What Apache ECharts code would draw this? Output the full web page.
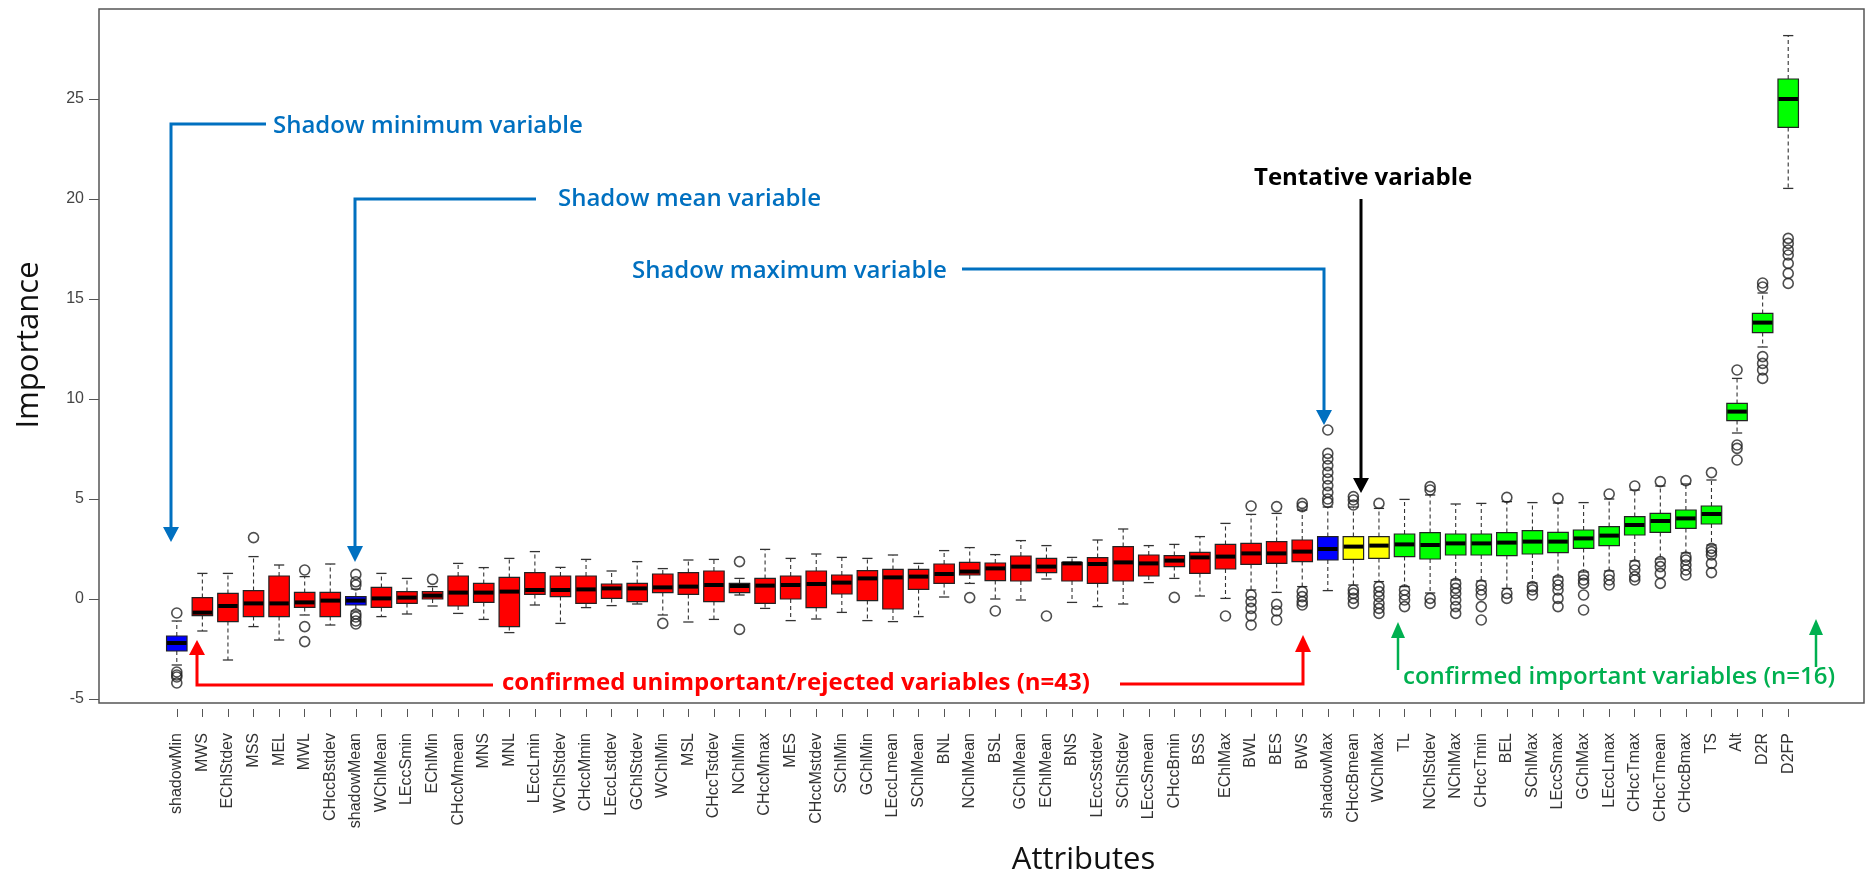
<!DOCTYPE html>
<html><head><meta charset="utf-8">
<script src="https://cdn.jsdelivr.net/npm/echarts@6/dist/echarts.min.js"></script>
<style>html,body{margin:0;padding:0;background:#fff}#c{width:1866px;height:881px}</style>
</head><body><div id="c"></div>
<script>
// ---------- data ----------
const categories = ['shadowMin','MWS','EChlStdev','MSS','MEL','MWL','CHccBstdev','shadowMean','WChlMean','LEccSmin',
 'EChlMin','CHccMmean','MNS','MNL','LEccLmin','WChlStdev','CHccMmin','LEccLstdev','GChlStdev','WChlMin',
 'MSL','CHccTstdev','NChlMin','CHccMmax','MES','CHccMstdev','SChlMin','GChlMin','LEccLmean','SChlMean',
 'BNL','NChlMean','BSL','GChlMean','EChlMean','BNS','LEccSstdev','SChlStdev','LEccSmean','CHccBmin',
 'BSS','EChlMax','BWL','BES','BWS','shadowMax','CHccBmean','WChlMax','TL','NChlStdev',
 'NChlMax','CHccTmin','BEL','SChlMax','LEccSmax','GChlMax','LEccLmax','CHccTmax','CHccTmean','CHccBmax',
 'TS','Alt','D2R','D2FP'];
const whiskerLow = [-3.3,-1.6,-3.05,-1.38,-2.05,-0.8,-1.3,-0.6,-0.88,-0.75,
 -0.35,-0.72,-1.02,-1.68,-0.3,-1.22,-0.43,-0.33,-0.25,-0.8,
 -1.15,-1.02,0.2,-0.47,-1.08,-1.0,-0.67,-1.08,-1.13,-0.88,
 0.1,0.78,0.0,-0.05,1.0,-0.17,-0.38,-0.25,0.82,1.03,
 0.15,0.03,0.45,0.33,0.62,0.42,0.7,0.87,0.62,0.3,
 0.95,0.9,0.53,0.8,1.1,1.35,1.4,1.9,2.0,2.3,
 2.7,8.3,12.6,20.53];
const q1 = [-2.6,-0.83,-1.13,-0.88,-0.88,-0.42,-0.88,-0.3,-0.42,-0.22,
 0.0,-0.35,-0.17,-1.38,0.23,0.12,-0.22,0.03,-0.13,0.32,
 0.23,-0.13,0.32,-0.22,0.0,-0.43,0.25,-0.08,-0.5,0.48,
 0.78,1.2,0.92,0.9,1.32,0.9,0.78,0.9,1.15,1.62,
 1.28,1.5,1.73,1.78,1.87,1.95,1.98,2.03,2.12,2.0,
 2.2,2.2,2.17,2.25,2.32,2.53,2.67,3.2,3.33,3.53,
 3.75,8.92,13.32,23.58];
const median = [-2.2,-0.68,-0.35,-0.22,-0.22,-0.17,-0.08,-0.08,0.03,0.07,
 0.17,0.32,0.32,0.37,0.45,0.45,0.48,0.53,0.53,0.58,
 0.62,0.7,0.65,0.67,0.7,0.75,0.82,1.03,1.08,1.12,
 1.25,1.37,1.53,1.62,1.62,1.78,1.75,1.83,1.78,1.92,
 2.08,2.12,2.28,2.28,2.37,2.5,2.62,2.67,2.73,2.7,
 2.78,2.78,2.82,2.87,2.87,3.03,3.17,3.7,3.9,4.03,
 4.25,9.37,13.82,25.0];
const q3 = [-1.85,0.07,0.28,0.42,1.15,0.33,0.33,0.12,0.58,0.37,
 0.37,1.15,0.78,1.08,1.32,1.15,1.15,0.75,0.78,1.25,
 1.32,1.4,0.78,1.03,1.15,1.4,1.2,1.42,1.48,1.48,
 1.75,1.83,1.8,2.15,2.03,1.83,2.07,2.62,2.2,2.17,
 2.33,2.73,2.78,2.87,2.95,3.12,3.12,3.12,3.25,3.32,
 3.25,3.25,3.32,3.42,3.33,3.45,3.62,4.12,4.28,4.45,
 4.65,9.78,14.28,26.0];
const whiskerHigh = [-1.1,1.28,1.28,2.12,1.7,1.12,1.75,0.5,1.28,1.03,
 0.62,1.78,1.57,2.03,2.37,1.58,1.98,1.4,1.87,1.52,
 1.95,1.98,1.03,2.48,2.03,2.25,2.08,2.03,2.2,1.78,
 2.42,2.57,2.22,2.92,2.67,2.08,2.95,3.5,2.67,2.73,
 3.12,3.78,4.23,4.28,4.45,4.6,4.6,4.53,4.98,5.2,
 4.75,4.78,4.87,4.82,4.8,4.82,5.0,5.45,5.65,5.75,
 5.95,11.03,15.3,28.17];
const outliers = [[-0.7,-3.65,-3.8,-3.9,-4.2],[],[],[3.07],[],[1.45,-1.38,-2.13],[],[0.7,0.86,1.23,-0.75,-0.9,-1.1,-1.25],[],[],
 [0.98],[],[],[],[],[],[],[],[],[-1.22],
 [],[],[1.87,-1.52],[],[],[],[],[],[],[],
 [],[0.07],[-0.6],[],[-0.85],[],[],[],[],[0.08],
 [],[-0.85],[4.65,0.2,-0.13,-0.47,-0.85,-1.3],[4.62,-0.27,-0.6,-1.05],[4.62,4.78,0.37,0.12,-0.13,-0.3],
 [4.83,5.0,5.33,5.67,6.0,6.33,6.67,7.0,7.28,8.45],[4.7,4.95,5.12,0.45,0.28,0.03,-0.22],[4.78,0.62,0.37,0.12,-0.22,-0.47,-0.72],[0.45,0.2,-0.05,-0.38],[5.45,5.62,0.03,-0.22],
 [0.78,0.53,0.28,-0.05,-0.38,-0.72],[0.7,0.45,0.2,-0.38,-1.05],[5.08,0.28,0.03],[0.62,0.45,0.2],[5.03,0.95,0.7,0.45,0.03,-0.38],[1.2,0.95,0.78,0.2,-0.55],[5.25,1.2,0.95,0.7],[5.65,1.7,1.45,1.12,0.95],[5.87,1.87,1.62,1.28,0.78],[5.92,2.1,1.95,1.7,1.45,1.2],
 [6.32,2.53,2.37,2.2,1.78,1.32],[11.45,7.7,7.53,6.95],[15.6,15.8,12.12,11.78,11.45,11.03],[18.03,17.78,17.45,17.2,16.78,16.28,15.78]];
// decision of each attribute
const shadowNames = ['shadowMin','shadowMean','shadowMax'];
const tentativeNames = ['CHccBmean','WChlMax'];
const confirmedCount = 16;
const yTickMin = -5, yTickMax = 25, yTickStep = 5;

// ---------- build ----------
const status = categories.map((c, i) => shadowNames.includes(c) ? 'shadow'
  : tentativeNames.includes(c) ? 'tentative'
  : (i >= categories.length - confirmedCount ? 'confirmed' : 'rejected'));
const statusFill = {shadow:'#0000FF', rejected:'#FF0000', tentative:'#FFFF00', confirmed:'#00FF00'};
const boxData = categories.map((c, i) => [i, whiskerLow[i], q1[i], median[i], q3[i], whiskerHigh[i]]);
const outlierData = [];
outliers.forEach((arr, i) => arr.forEach(v => outlierData.push([i, v])));

function renderBox(params, api) {
  const i = api.value(0);
  const pLo = api.coord([i, api.value(1)]);
  const pQ1 = api.coord([i, api.value(2)]);
  const pMd = api.coord([i, api.value(3)]);
  const pQ3 = api.coord([i, api.value(4)]);
  const pHi = api.coord([i, api.value(5)]);
  const bw = api.size([1, 0])[0] * 0.8;
  const cw = bw * 0.5;
  const x = pQ1[0];
  const fill = statusFill[status[i]];
  const dash = {stroke:'#333', lineWidth:1.1, lineDash:[4,3]};
  const cap = {stroke:'#333', lineWidth:1.3};
  return {type:'group', children:[
    {type:'line', shape:{x1:x,y1:pQ3[1],x2:x,y2:pHi[1]}, style:dash},
    {type:'line', shape:{x1:x,y1:pQ1[1],x2:x,y2:pLo[1]}, style:dash},
    {type:'line', shape:{x1:x-cw/2,y1:pHi[1],x2:x+cw/2,y2:pHi[1]}, style:cap},
    {type:'line', shape:{x1:x-cw/2,y1:pLo[1],x2:x+cw/2,y2:pLo[1]}, style:cap},
    {type:'rect', shape:{x:x-bw/2,y:pQ3[1],width:bw,height:pQ1[1]-pQ3[1]}, style:{fill:fill, stroke:'#222', lineWidth:1.2}},
    {type:'line', shape:{x1:x-bw/2+0.5,y1:pMd[1],x2:x+bw/2-0.5,y2:pMd[1]}, style:{stroke:'#000', lineWidth:4}}
  ]};
}

function txt(t, x, y, color, w) {
  return {type:'text', x:x, y:y, z:10, style:{text:t, fill:color, font:(w||600)+' 24px "Open Sans"', align:'left', verticalAlign:'middle'}};
}
function pl(points, color, w) {
  return {type:'polyline', z:10, shape:{points:points}, style:{stroke:color, lineWidth:w, fill:null}};
}
function head(points, color) {
  return {type:'polygon', z:10, shape:{points:points}, style:{fill:color}};
}
const BLUE = '#0070C0', RED = '#FF0000', GREEN = '#00B050';
const hiddenAxis = {axisLine:{show:false, onZero:false}, axisTick:{show:false}, axisLabel:{show:false}, splitLine:{show:false}};

const option = {
  animation: false,
  backgroundColor: '#fff',
  grid: [
    {left:164, top:9, width:1637, height:700},
    {left:99, top:99, width:1765, height:600},
    {left:99, top:9, width:1765, height:700, show:true, borderColor:'#555', borderWidth:1.5, backgroundColor:'transparent', z:0}
  ],
  xAxis: [
    {gridIndex:0, type:'category', data:categories, boundaryGap:true, position:'bottom',
     axisLine:{show:false, onZero:false}, axisTick:{show:true, alignWithLabel:true, length:8, lineStyle:{color:'#555'}},
     axisLabel:{interval:0, rotate:90, margin:24, fontSize:16, fontFamily:'"Liberation Sans", Arial', color:'#333'},
     splitLine:{show:false}},
    Object.assign({gridIndex:1, type:'value', min:0, max:1}, hiddenAxis),
    Object.assign({gridIndex:2, type:'value', min:0, max:1,
     name:'Attributes', nameLocation:'middle', nameGap:142,
     nameTextStyle:{fontSize:31, fontFamily:'"Open Sans"', color:'#111', padding:[0,0,0,204]}}, hiddenAxis)
  ],
  yAxis: [
    Object.assign({gridIndex:0, type:'value', min:-5.5, max:29.5}, hiddenAxis),
    {gridIndex:1, type:'value', min:yTickMin, max:yTickMax, interval:yTickStep,
     axisLine:{show:false, onZero:false}, axisTick:{show:true, inside:false, length:10, lineStyle:{color:'#555'}},
     axisLabel:{margin:15, fontSize:16, fontFamily:'"Liberation Sans", Arial', color:'#444'},
     splitLine:{show:false}},
    Object.assign({gridIndex:2, type:'value', min:0, max:1,
     name:'Importance', nameLocation:'middle', nameGap:54, nameRotate:90,
     nameTextStyle:{fontSize:31, fontFamily:'"Open Sans"', color:'#111', padding:[0,0,0,22]}}, hiddenAxis)
  ],
  series: [
    {type:'custom', xAxisIndex:0, yAxisIndex:0, renderItem:renderBox, data:boxData, encode:{x:0, y:[1,2,3,4,5]}, z:2},
    {type:'scatter', xAxisIndex:0, yAxisIndex:0, data:outlierData, symbol:'circle', symbolSize:10,
     itemStyle:{color:'rgba(0,0,0,0)', borderColor:'#222', borderWidth:1.6}, z:3}
  ],
  graphic: [
    pl([[266,124],[171,124],[171,530]], BLUE, 3), head([[163,527],[179,527],[171,542]], BLUE),
    txt('Shadow minimum variable', 273, 126, BLUE),
    pl([[536,199],[355,199],[355,548]], BLUE, 3), head([[347,546],[363,546],[355,562]], BLUE),
    txt('Shadow mean variable', 558, 199, BLUE),
    pl([[962,269],[1324,269],[1324,412]], BLUE, 3), head([[1316,410],[1332,410],[1324,425]], BLUE),
    txt('Shadow maximum variable', 632, 271, BLUE),
    pl([[1361,199],[1361,480]], '#000', 3), head([[1353,478],[1369,478],[1361,493]], '#000'),
    txt('Tentative variable', 1254, 178, '#000', 700),
    pl([[493,685],[197,685],[197,653]], RED, 3), head([[189,655],[205,655],[197,640]], RED),
    pl([[1120,684],[1303,684],[1303,650]], RED, 3), head([[1295,652],[1311,652],[1303,635]], RED),
    txt('confirmed unimportant/rejected variables (n=43)', 502, 683, RED, 700),
    pl([[1398,670],[1398,636]], GREEN, 2.5), head([[1391,638],[1405,638],[1398,622]], GREEN),
    pl([[1816,667],[1816,633]], GREEN, 2.5), head([[1809,635],[1823,635],[1816,619]], GREEN),
    txt('confirmed important variables (n=16)', 1403, 677, GREEN)
  ]
};
echarts.init(document.getElementById('c'), null, {renderer:'canvas'}).setOption(option);
</script></body></html>
